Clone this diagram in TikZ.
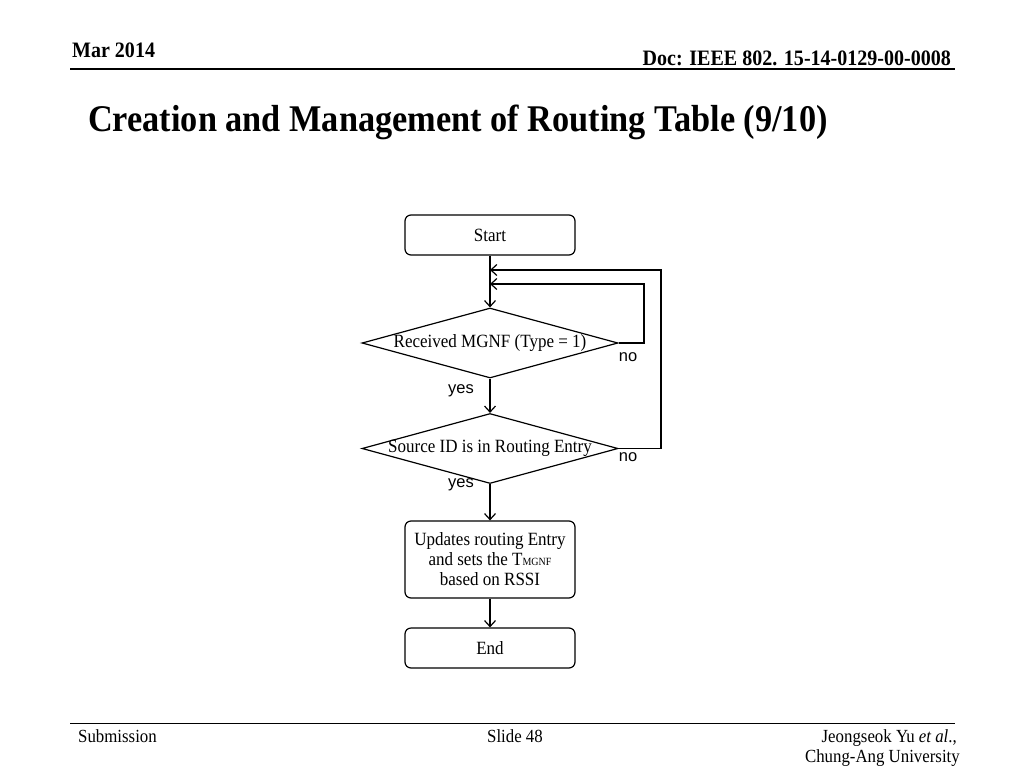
\documentclass[tikz,border=0pt]{standalone}
\usepackage{fontspec}
\setmainfont[FakeStretch=0.91]{Liberation Serif}
\newfontfamily\arialfont{Liberation Sans}
\usetikzlibrary{shapes.geometric,arrows.meta}
\newcommand{\fitbox}[1]{\makebox[120pt][c]{#1}}
\begin{document}
\begin{tikzpicture}[x=1pt,y=-1pt,
  box/.style={draw,rounded corners=6pt,line width=1.2pt,minimum width=170pt,inner sep=0pt,align=center,font=\fontsize{18.7}{20}\selectfont},
  dia/.style={draw,diamond,line width=1.2pt,minimum width=256pt,minimum height=70pt,inner sep=0pt,aspect=3.6,font=\fontsize{18.7}{20}\selectfont},
  arr/.style={line width=1.2pt,-{Straight Barb[length=6pt,width=11pt]}},
  lbl/.style={font=\arialfont\fontsize{16.5}{19}\selectfont},
  hdr/.style={font=\bfseries\fontsize{22}{24}\selectfont}]
\useasboundingbox (0,0) rectangle (1024,768);
\fill[white] (0,0) rectangle (1024,768);
% header
\node[hdr,anchor=base west,inner sep=0pt] (date) at (72,58) {Mar 2014};
\node[hdr,anchor=base east,inner sep=0pt] (doc) at (951,66) {Doc: IEEE 802. 15-14-0129-00-0008};
\coordinate (hl) at (70,69); \coordinate (hr) at (955,69);
\draw[line width=1.6pt] (hl) -- (hr);
\node[anchor=base west,inner sep=0pt,font=\bfseries\fontsize{37.7}{40}\selectfont] (title) at (88,131) {Creation and Management of Routing Table (9/10)};
% flowchart
\node[box,minimum height=40pt] (start) at (490,235) {Start};
\node[dia] (d1) at (490,343) {\fitbox{Received MGNF (Type = 1)}};
\node[dia] (d2) at (490,448.5) {\fitbox{Source ID is in Routing Entry}};
\node[box,minimum height=77pt] (upd) at (490,559.5) {Updates routing Entry\\and sets the T{\fontsize{11}{11}\selectfont MGNF}\\based on RSSI};
\node[box,minimum height=40pt] (end) at (490,648) {End};
\coordinate (m1) at (490,284);
\coordinate (m2) at (490,270);
\draw[arr] (start) -- (d1);
\draw[arr] (d1) -- (d2);
\draw[arr] (d2) -- (upd);
\draw[arr] (upd) -- (end);
\draw[arr] (d1.east) -- (644,343) -- (644,284) -- (m1);
\draw[arr] (d2.east) -- (661,448.5) -- (661,270) -- (m2);
\node[lbl] (no1) at (628,357) {no};
\node[lbl] (no2) at (628,457) {no};
\node[lbl] (yes1) at (461,391) {yes};
\node[lbl] (yes2) at (461,485) {yes};
% footer
\coordinate (fl) at (70,723); \coordinate (fr) at (955,723);
\draw[line width=1pt] (fl) -- (fr);
\node[anchor=base west,inner sep=0pt,font=\fontsize{18.5}{20}\selectfont] (sub) at (78,742) {Submission};
\node[anchor=base,inner sep=0pt,font=\fontsize{18.5}{20}\selectfont] (slide) at (515,742) {Slide 48};
\node[anchor=base east,inner sep=0pt,font=\fontsize{18.5}{20}\selectfont] (auth) at (957,742) {Jeongseok Yu \textit{et al}.,};
\node[anchor=base east,inner sep=0pt,font=\fontsize{18.5}{20}\selectfont] (univ) at (960,762) {Chung-Ang University};
\end{tikzpicture}
\end{document}
